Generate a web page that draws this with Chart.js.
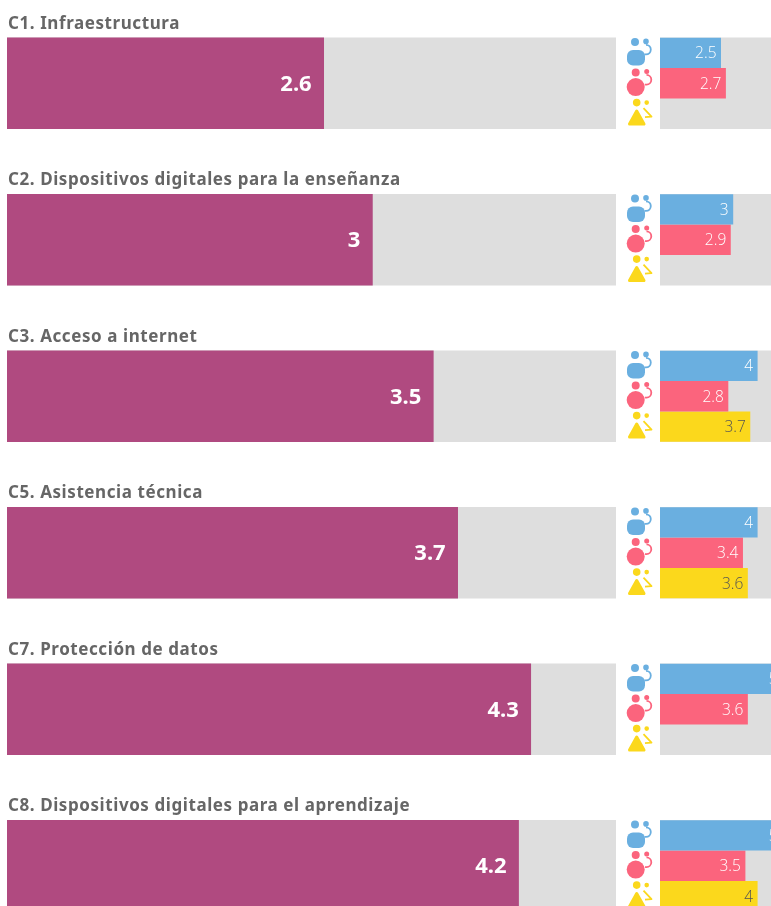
<!DOCTYPE html>
<html lang="es">
<head>
<meta charset="utf-8">
<title>Dispositivos e infraestructura</title>
<script src="https://cdn.jsdelivr.net/npm/chart.js@4"></script>
<style>
  html, body { margin: 0; background: #fff; width: 771px; height: 906px; overflow: hidden; }
  canvas { position: absolute; }
  #mainChart { left: 7px; top: 5px; }
  #groupChart { left: 600px; top: 5px; }
</style>
</head>
<body>
<canvas id="mainChart" width="609" height="939"></canvas>
<canvas id="groupChart" width="182" height="939"></canvas>
<script>
const categories = [
  "C1. Infraestructura",
  "C2. Dispositivos digitales para la enseñanza",
  "C3. Acceso a internet",
  "C5. Asistencia técnica",
  "C7. Protección de datos",
  "C8. Dispositivos digitales para el aprendizaje",
];
const overall = [2.6, 3, 3.5, 3.7, 4.3, 4.2];
const blueGroup = [2.5, 3, 4, 4, 5, 5];
const pinkGroup = [2.7, 2.9, 2.8, 3.4, 3.6, 3.5];
const yellowGroup = [null, null, 3.7, 3.6, null, 4];
const scaleMax = [5, 5, 5, 5, 5, 5];

const PURPLE = "#b04a80";
const GREY = "#dedede";
const BLUE = "#6aafe0";
const PINK = "#fb647d";
const YELLOW = "#fbd81c";
const TITLE_COLOR = "#666666";
const ROW_HEIGHT = 91;

// value labels, right aligned inside the bar end
const valueLabels = {
  id: "valueLabels",
  afterDatasetsDraw(chart, args, opts) {
    const ctx = chart.ctx;
    chart.data.datasets.forEach((ds, i) => {
      if (!ds.labelColor) return;
      chart.getDatasetMeta(i).data.forEach((bar, j) => {
        if (ds.data[j] == null) return;
        ctx.save();
        ctx.font = opts.font;
        ctx.fillStyle = ds.labelColor;
        ctx.textAlign = "right";
        ctx.textBaseline = "middle";
        ctx.fillText(String(ds.data[j]), bar.x - opts.inset, bar.y + 1);
        ctx.restore();
      });
    });
  },
};

// section titles above each row
const rowTitles = {
  id: "rowTitles",
  afterDatasetsDraw(chart) {
    const ctx = chart.ctx;
    chart.getDatasetMeta(0).data.forEach((bar, j) => {
      ctx.save();
      ctx.font = "bold 17px 'Noto Sans'";
      ctx.letterSpacing = "0.58px";
      ctx.fillStyle = TITLE_COLOR;
      ctx.textAlign = "left";
      ctx.fillText(categories[j], 1, bar.y - ROW_HEIGHT / 2 - 9);
      ctx.restore();
    });
  },
};

function hook(ctx, x, y, color) {
  ctx.strokeStyle = color;
  ctx.lineWidth = 1.8;
  ctx.beginPath();
  ctx.arc(x, y, 4.8, -Math.PI * 0.5, Math.PI * 0.6);
  ctx.stroke();
}

function drawBlueIcon(ctx, y) {
  ctx.fillStyle = BLUE;
  ctx.beginPath();
  ctx.arc(35, y - 11, 4, 0, Math.PI * 2);
  ctx.moveTo(48.8, y - 11.5);
  ctx.arc(46, y - 11.5, 2.8, 0, Math.PI * 2);
  ctx.fill();
  ctx.beginPath();
  ctx.roundRect(27, y - 3, 18, 15.5, 6);
  ctx.fill();
  hook(ctx, 46, y - 3.3, BLUE);
}

function drawPinkIcon(ctx, y) {
  ctx.fillStyle = PINK;
  ctx.beginPath();
  ctx.arc(35.7, y - 10.8, 4, 0, Math.PI * 2);
  ctx.moveTo(49.2, y - 11.8);
  ctx.arc(46.7, y - 11.8, 2.5, 0, Math.PI * 2);
  ctx.fill();
  ctx.beginPath();
  ctx.arc(35.7, y + 3.8, 9, 0, Math.PI * 2);
  ctx.fill();
  hook(ctx, 46.5, y - 3.5, PINK);
}

function drawYellowIcon(ctx, y) {
  ctx.fillStyle = YELLOW;
  ctx.strokeStyle = YELLOW;
  ctx.beginPath();
  ctx.arc(36.7, y - 11, 3.8, 0, Math.PI * 2);
  ctx.moveTo(49, y - 11);
  ctx.arc(46.7, y - 11, 2.3, 0, Math.PI * 2);
  ctx.fill();
  ctx.lineWidth = 3;
  ctx.lineJoin = "round";
  ctx.beginPath();
  ctx.moveTo(36.7, y - 2.5);
  ctx.lineTo(44, y + 10.5);
  ctx.lineTo(29.5, y + 10.5);
  ctx.closePath();
  ctx.fill();
  ctx.stroke();
  ctx.lineWidth = 1.8;
  ctx.beginPath();
  ctx.moveTo(43.5, y - 5.5);
  ctx.lineTo(51.5, y + 3);
  ctx.lineTo(45, y + 3.5);
  ctx.stroke();
}

// group icons left of the small bars
const groupIcons = {
  id: "groupIcons",
  afterDatasetsDraw(chart) {
    const ctx = chart.ctx;
    const draw = [drawBlueIcon, drawPinkIcon, drawYellowIcon];
    [0, 1, 2].forEach((d) => {
      chart.getDatasetMeta(d).data.forEach((bar) => {
        ctx.save();
        draw[d](ctx, bar.y);
        ctx.restore();
      });
    });
  },
};

Chart.defaults.animation = false;
Chart.defaults.responsive = false;

new Chart(document.getElementById("mainChart"), {
  type: "bar",
  data: {
    labels: categories,
    datasets: [
      { data: overall, backgroundColor: PURPLE, barThickness: ROW_HEIGHT, grouped: false, labelColor: "#ffffff", order: 1 },
      { data: scaleMax, backgroundColor: GREY, barThickness: ROW_HEIGHT, grouped: false, order: 2 },
    ],
  },
  options: {
    indexAxis: "y",
    layout: { padding: 0 },
    plugins: {
      legend: { display: false },
      tooltip: { enabled: false },
      valueLabels: { font: "bold 22px 'Noto Sans'", inset: 12 },
    },
    scales: {
      x: { display: false, min: 0, max: 5 },
      y: { display: false },
    },
  },
  plugins: [valueLabels, rowTitles],
});

new Chart(document.getElementById("groupChart"), {
  type: "bar",
  data: {
    labels: categories,
    datasets: [
      { data: blueGroup, backgroundColor: BLUE, labelColor: "#ffffff", order: 1 },
      { data: pinkGroup, backgroundColor: PINK, labelColor: "#ffffff", order: 1 },
      { data: yellowGroup, backgroundColor: YELLOW, labelColor: "#555555", order: 1 },
      { data: scaleMax, backgroundColor: GREY, barThickness: ROW_HEIGHT, grouped: false, order: 2 },
    ],
  },
  options: {
    indexAxis: "y",
    layout: { padding: { left: 60 } },
    datasets: { bar: { categoryPercentage: ROW_HEIGHT / 156.5, barPercentage: 1 } },
    plugins: {
      legend: { display: false },
      tooltip: { enabled: false },
      valueLabels: { font: "300 15.5px 'Open Sans'", inset: 4.5 },
    },
    scales: {
      x: { display: false, min: 0, max: 5 },
      y: { display: false },
    },
  },
  plugins: [valueLabels, groupIcons],
});
</script>
</body>
</html>
